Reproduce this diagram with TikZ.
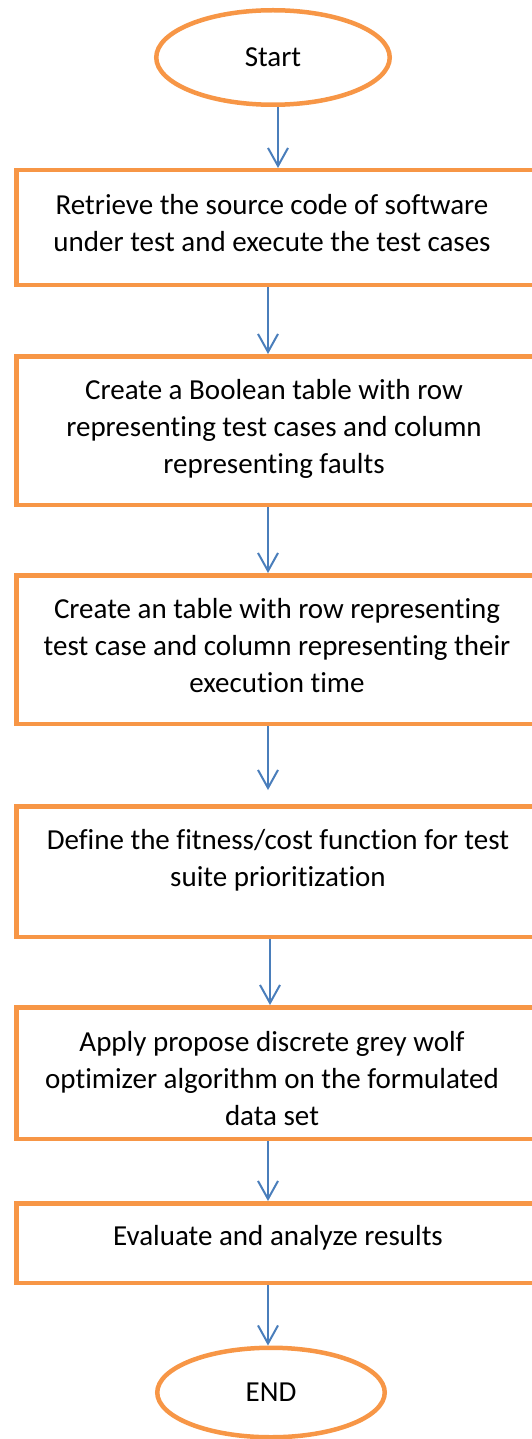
\documentclass[tikz,border=0pt]{standalone}
\usepackage{fontspec}
\setmainfont{Carlito}[Ligatures=NoCommon]
\usetikzlibrary{shapes.geometric,arrows.meta}
\definecolor{boxorange}{HTML}{F79646}
\definecolor{arrowblue}{HTML}{4A7EBB}
\tikzset{
	stepbox/.style={draw=boxorange,line width=4.5pt,rectangle,anchor=north west,minimum width=600pt},
	steptext/.style={anchor=north,align=center,inner sep=0pt,font=\fontsize{29}{37}\selectfont},
	terminal/.style={ellipse,draw=boxorange,line width=4.5pt,fill=white,font=\fontsize{29}{37}\selectfont},
	flow/.style={draw=arrowblue,line width=2pt,-{Straight Barb[length=18pt,width=20pt]}}
}
\begin{document}
\begin{tikzpicture}[x=1pt,y=-1pt]
	\useasboundingbox (0,0) rectangle (532,1439);
	\clip (0,0) rectangle (532,1439);
	\coordinate (axis) at (268,0);
	% start and end
	\node[terminal,minimum width=233.5pt,minimum height=94.5pt] (start) at (273,57.5) {Start};
	\node[terminal,minimum width=227.5pt,minimum height=89.5pt] (finish) at (271,1392.5) {END};
	% frames
	\node[stepbox,minimum height=114.5pt] (b1) at (14,168) {};
	\node[stepbox,minimum height=148.5pt] (b2) at (14,354) {};
	\node[stepbox,minimum height=148.5pt] (b3) at (14,573) {};
	\node[stepbox,minimum height=130.5pt] (b4) at (14,804) {};
	\node[stepbox,minimum height=131.5pt] (b5) at (14,1005) {};
	\node[stepbox,minimum height=79.5pt] (b6) at (14,1201) {};
	% texts
	\node[steptext] (t1) at (272,194) {Retrieve the source code of software\\under test and execute the test cases};
	\node[steptext] (t2) at (274,379) {Create a Boolean table with row\\representing test cases and column\\representing faults};
	\node[steptext] (t3) at (277,598) {Create an table with row representing\\test case and column representing their\\execution time};
	\node[steptext] (t4) at (278,829) {Define the fitness/cost function for test\\suite prioritization};
	\node[steptext] (t5) at (272,1031) {Apply propose discrete grey wolf\\optimizer algorithm on the formulated\\data set};
	\node[steptext] (t6) at (278,1225) {Evaluate and analyze results};
	% arrows
	\draw[flow] ([xshift=5pt]start.south) -- ([xshift=5pt]start.south |- b1.north);
	\draw[flow] (axis |- b1.south) -- (axis |- b2.north);
	\draw[flow] (axis |- b2.south) -- (axis |- b3.north);
	\draw[flow] (axis |- b3.south) -- ([yshift=14pt]axis |- b4.north);
	\draw[flow] ([xshift=2pt]axis |- b4.south) -- ([xshift=2pt]axis |- b5.north);
	\draw[flow] (axis |- b5.south) -- (axis |- b6.north);
	\draw[flow] (axis |- b6.south) -- (axis |- finish.north);
\end{tikzpicture}
\end{document}
